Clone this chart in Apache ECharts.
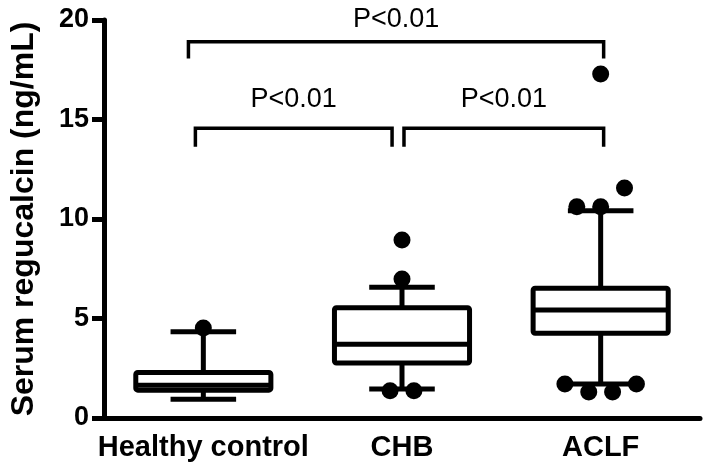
<!DOCTYPE html>
<html>
<head>
<meta charset="utf-8">
<script src="https://cdn.jsdelivr.net/npm/echarts@6/dist/echarts.min.js"></script>
<style>
html, body { margin: 0; padding: 0; background: #fff; }
#main { width: 708px; height: 472px; }
</style>
</head>
<body>
<div id="main"></div>
<script>
/* groups on the x axis */
var groups = ['Healthy control', 'CHB', 'ACLF'];

/* box stats: [min whisker, Q1, median, Q3, max whisker] */
var box_hc = [0.94, 1.40, 1.65, 2.29, 4.34];
var box_chb = [1.46, 2.76, 3.70, 5.54, 6.57];
var box_aclf = [1.71, 4.26, 5.43, 6.52, 10.42];

/* outliers: [group index + jitter, value] */
var out_hc = [[0, 4.52]];
var out_chb = [[1, 8.94], [1, 6.98], [0.94, 1.37], [1.06, 1.37]];
var out_aclf = [[2, 17.29], [2.12, 11.56], [1.88, 10.62], [2, 10.62],
	[1.82, 1.71], [2.18, 1.71], [1.94, 1.31], [2.06, 1.31]];

/* significance brackets: [from, to, bar level, leg end, text level] */
var brackets = [
	[-0.075, 2.015, 18.91, 18.07, 20.04],
	[-0.04, 0.95, 14.56, 13.63, 16.02],
	[1.01, 2.015, 14.56, 13.63, 16.02]
];
var p_text = 'P<0.01';

/* y axis ticks */
var y_min = 0, y_max = 20, y_step = 5;

var font = 'Liberation Sans, Arial, sans-serif';
var lw = 5;

function renderBox(params, api) {
	var i = api.value(0);
	var band = api.size([1, 0])[0];
	var hw = band * 0.34;   // half box width
	var cw = band * 0.165;  // half cap width
	var p = [];
	for (var k = 1; k <= 5; k++) {
		p.push(api.coord([i, api.value(k)]));
	}
	var cx = p[0][0];
	var st = { stroke: '#000', lineWidth: lw, fill: null };
	return {
		type: 'group',
		children: [
			{ type: 'line', shape: { x1: cx, y1: p[0][1], x2: cx, y2: p[1][1] }, style: st },
			{ type: 'line', shape: { x1: cx, y1: p[3][1], x2: cx, y2: p[4][1] }, style: st },
			{ type: 'line', shape: { x1: cx - cw, y1: p[0][1], x2: cx + cw, y2: p[0][1] }, style: st },
			{ type: 'line', shape: { x1: cx - cw, y1: p[4][1], x2: cx + cw, y2: p[4][1] }, style: st },
			{
				type: 'rect',
				shape: { x: cx - hw, y: p[3][1], width: hw * 2, height: p[1][1] - p[3][1], r: 2 },
				style: { stroke: '#000', fill: '#fff', lineWidth: lw, lineJoin: 'round' }
			},
			{ type: 'line', shape: { x1: cx - hw, y1: p[2][1], x2: cx + hw, y2: p[2][1] }, style: st }
		]
	};
}

function renderBracket(params, api) {
	var a = api.coord([api.value(0), api.value(2)]);
	var b = api.coord([api.value(1), api.value(2)]);
	var leg = api.coord([0, api.value(3)])[1];
	var t = api.coord([(api.value(0) + api.value(1)) / 2, api.value(4)]);
	return {
		type: 'group',
		children: [
			{
				type: 'polyline',
				shape: { points: [[a[0], leg], [a[0], a[1]], [b[0], b[1]], [b[0], leg]] },
				style: { stroke: '#000', lineWidth: 3.5, fill: null }
			},
			{
				type: 'text',
				style: {
					text: p_text, x: t[0], y: t[1],
					align: 'center', verticalAlign: 'middle',
					fontSize: 27, fontFamily: font, fill: '#000'
				}
			}
		]
	};
}

var outlier_style = { color: '#000', opacity: 1 };

var option = {
	animation: false,
	backgroundColor: '#fff',
	grid: { left: 101, right: 8, top: 20, bottom: 54 },
	xAxis: [{
		type: 'category',
		data: groups,
		axisLine: { lineStyle: { color: '#000', width: lw } },
		axisTick: { alignWithLabel: true, length: 12, lineStyle: { color: '#000', width: lw } },
		axisLabel: { color: '#000', fontSize: 29, fontWeight: 'bold', fontFamily: font, margin: 15, interval: 0, hideOverlap: false },
		splitLine: { show: false }
	}, {
		type: 'value',
		min: -0.5,
		max: 2.5,
		show: false
	}],
	yAxis: {
		type: 'value',
		min: y_min,
		max: y_max,
		interval: y_step,
		name: 'Serum regucalcin (ng/mL)',
		nameLocation: 'middle',
		nameGap: 64,
		nameTextStyle: { color: '#000', fontSize: 32, fontWeight: 'bold', fontFamily: font },
		axisLine: { show: true, onZero: false, lineStyle: { color: '#000', width: lw } },
		axisTick: { show: true, length: 12, lineStyle: { color: '#000', width: lw } },
		axisLabel: { color: '#000', fontSize: 27, fontWeight: 'bold', fontFamily: font, margin: 15 },
		splitLine: { show: false }
	},
	series: [{
		type: 'custom',
		xAxisIndex: 0,
		renderItem: renderBox,
		encode: { x: 0, y: [1, 2, 3, 4, 5] },
		data: [[0].concat(box_hc), [1].concat(box_chb), [2].concat(box_aclf)],
		z: 2
	}, {
		type: 'scatter', xAxisIndex: 1, symbolSize: 17, itemStyle: outlier_style, data: out_hc, z: 3
	}, {
		type: 'scatter', xAxisIndex: 1, symbolSize: 17, itemStyle: outlier_style, data: out_chb, z: 3
	}, {
		type: 'scatter', xAxisIndex: 1, symbolSize: 17, itemStyle: outlier_style, data: out_aclf, z: 3
	}, {
		type: 'custom',
		xAxisIndex: 1,
		renderItem: renderBracket,
		encode: { x: [0, 1], y: [2, 3, 4] },
		data: brackets,
		z: 4
	}]
};

var chart = echarts.init(document.getElementById('main'));
chart.setOption(option);
</script>
</body>
</html>
